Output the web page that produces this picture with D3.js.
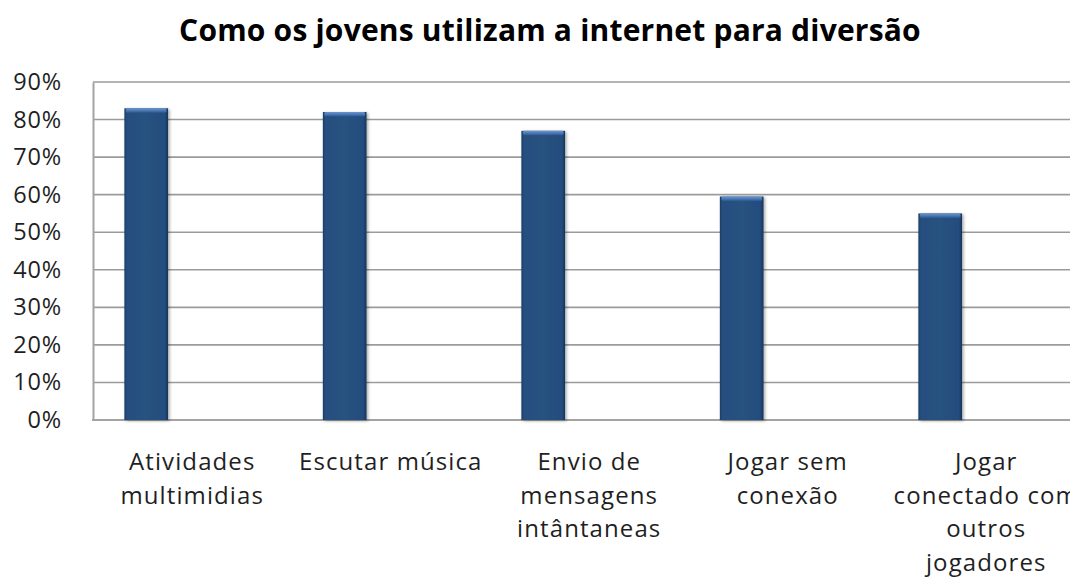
<!DOCTYPE html>
<html>
<head>
<meta charset="utf-8">
<script src="https://cdn.jsdelivr.net/npm/d3@7"></script>
<style>
  html, body { margin: 0; padding: 0; background: #fff; }
  svg { display: block; font-family: "Open Sans", sans-serif; }
</style>
</head>
<body>
<svg id="chart" width="1070" height="587"></svg>
<script>
// Category labels, one array entry per wrapped line
const categories = [
  "Atividades multimidias",
  "Escutar música",
  "Envio de mensagens intântaneas",
  "Jogar sem conexão",
  "Jogar conectado com outros jogadores"
];
const labelLines = [
  ["Atividades", "multimidias"],
  ["Escutar música"],
  ["Envio de", "mensagens", "intântaneas"],
  ["Jogar sem", "conexão"],
  ["Jogar", "conectado com", "outros", "jogadores"]
];
const values = [0.83, 0.82, 0.77, 0.595, 0.55];
const yTicks = [0, 0.1, 0.2, 0.3, 0.4, 0.5, 0.6, 0.7, 0.8, 0.9];
const title = "Como os jovens utilizam a internet para diversão";

const svg = d3.select("#chart");
const plot = { left: 93, top: 82, bottom: 420, right: 1085.5 };
const textColor = "#1f1f1f";

const x = d3.scaleBand().domain(categories).range([plot.left, plot.right]).padding(0);
const y = d3.scaleLinear().domain([0, 0.9]).range([plot.bottom, plot.top]);

const defs = svg.append("defs");
// horizontal shading giving the bars a bevelled look
const g1 = defs.append("linearGradient").attr("id", "barBody").attr("x1", 0).attr("x2", 1).attr("y1", 0).attr("y2", 0);
[[0, "#1b3d66"], [0.06, "#254f80"], [0.5, "#26527f"], [0.92, "#244d7e"], [1, "#17345a"]]
  .forEach(([o, c]) => g1.append("stop").attr("offset", o).attr("stop-color", c));
const g2 = defs.append("linearGradient").attr("id", "barCap").attr("x1", 0).attr("x2", 0).attr("y1", 0).attr("y2", 1);
[[0, "#6a95cc"], [0.5, "#4c79b4"], [1, "#2b5790"]]
  .forEach(([o, c]) => g2.append("stop").attr("offset", o).attr("stop-color", c));
const shadow = defs.append("filter").attr("id", "shadow").attr("x", "-20%").attr("y", "-5%").attr("width", "150%").attr("height", "115%");
shadow.append("feDropShadow").attr("dx", 1.5).attr("dy", 1).attr("stdDeviation", 1.4)
  .attr("flood-color", "#000").attr("flood-opacity", 0.35);

// horizontal gridlines
svg.append("g")
  .selectAll("line")
  .data(yTicks.filter(d => d > 0))
  .join("line")
  .attr("x1", plot.left).attr("x2", plot.right)
  .attr("y1", d => y(d)).attr("y2", d => y(d))
  .attr("stroke", "#9b9b9b").attr("stroke-width", 1.6);

// value axis
const yAxis = svg.append("g")
  .attr("transform", `translate(${plot.left},0)`)
  .call(d3.axisLeft(y).tickValues(yTicks).tickFormat(d3.format(".0%")).tickSize(0).tickPadding(31));
yAxis.select(".domain").attr("stroke", "#a3a3a3").attr("stroke-width", 2);
yAxis.selectAll("text")
  .attr("font-size", 23.5).attr("letter-spacing", 0.8).attr("fill", textColor)
  .attr("font-family", "'Open Sans', sans-serif");

// category axis line
svg.append("line")
  .attr("x1", plot.left - 1).attr("x2", plot.right)
  .attr("y1", plot.bottom).attr("y2", plot.bottom)
  .attr("stroke", "#a3a3a3").attr("stroke-width", 2);

// bars: offset inside each category slot
const barOffset = 0.158, barWidth = 0.22;
const bars = svg.append("g").selectAll("g")
  .data(categories.map((c, i) => ({ c, v: values[i] })))
  .join("g")
  .attr("filter", "url(#shadow)");
bars.append("rect")
  .attr("x", d => x(d.c) + x.bandwidth() * barOffset)
  .attr("width", x.bandwidth() * barWidth)
  .attr("y", d => y(d.v))
  .attr("height", d => y(0) - y(d.v))
  .attr("fill", "url(#barBody)");
bars.append("rect")
  .attr("x", d => x(d.c) + x.bandwidth() * barOffset + 1.5)
  .attr("width", x.bandwidth() * barWidth - 3)
  .attr("y", d => y(d.v))
  .attr("height", 4.5)
  .attr("rx", 1.5)
  .attr("fill", "url(#barCap)");

// category labels
const xl = svg.append("g").selectAll("text")
  .data(categories)
  .join("text")
  .attr("x", d => x(d) + x.bandwidth() / 2)
  .attr("y", plot.bottom + 50)
  .attr("text-anchor", "middle")
  .attr("font-size", 24)
  .attr("letter-spacing", 1.1)
  .attr("fill", textColor);
xl.selectAll("tspan")
  .data((d, i) => labelLines[i])
  .join("tspan")
  .attr("x", function () { return this.parentNode.getAttribute("x"); })
  .attr("dy", (d, i) => i === 0 ? 0 : 33.5)
  .text(d => d);

// title
svg.append("text")
  .attr("x", 550).attr("y", 41)
  .attr("text-anchor", "middle")
  .attr("font-size", 30).attr("font-weight", "bold")
  .attr("letter-spacing", 0.2)
  .attr("fill", "#000")
  .text(title);
</script>
</body>
</html>
